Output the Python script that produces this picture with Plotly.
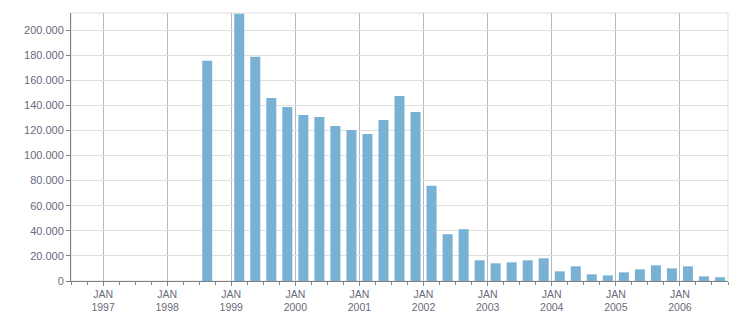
import plotly.graph_objects as go

# Quarterly data (Q3 1998 .. Q3 2006)
quarters = ["1998Q3", "1998Q4",
            "1999Q1", "1999Q2", "1999Q3", "1999Q4",
            "2000Q1", "2000Q2", "2000Q3", "2000Q4",
            "2001Q1", "2001Q2", "2001Q3", "2001Q4",
            "2002Q1", "2002Q2", "2002Q3", "2002Q4",
            "2003Q1", "2003Q2", "2003Q3", "2003Q4",
            "2004Q1", "2004Q2", "2004Q3", "2004Q4",
            "2005Q1", "2005Q2", "2005Q3", "2005Q4",
            "2006Q1", "2006Q2", "2006Q3"]
values = [175500, 0,
          213000, 178700, 145900, 138700,
          132300, 130700, 123600, 120400,
          117200, 128400, 147500, 134700,
          75900, 37300, 41300, 16500,
          14100, 14900, 16500, 18100,
          7700, 11700, 5300, 4500,
          6900, 9300, 12500, 10100,
          11700, 3700, 3000]
years = list(range(1997, 2007))
tick_labels = {str(y): "JAN<br>" + str(y) for y in years}
y_ticks = list(range(0, 200001, 20000))

# bar centers at the middle of each quarter (numeric years)
xpos = [int(q[:4]) + (int(q[-1]) - 1) / 4 + 0.125 for q in quarters]

font = dict(family="Tahoma, Liberation Sans, Arial, sans-serif", size=11, color="#6a6a7c")
xfont = dict(family="Tahoma, Liberation Sans, Arial, sans-serif", size=10.5, color="#6a6a7c")

fig = go.Figure()
fig.add_trace(go.Bar(x=xpos, y=values, width=0.156,
                     marker=dict(color="#78b1d4", line=dict(width=0)),
                     hoverinfo="skip"))

fig.update_layout(
    width=751, height=313,
    margin=dict(l=71, r=23, t=13, b=32),
    paper_bgcolor="white", plot_bgcolor="white",
    separators=",.",
    showlegend=False,
    font=font,
    shapes=[dict(type="rect", xref="paper", yref="paper", x0=0, x1=1, y0=0, y1=1,
                 line=dict(color="#dedede", width=1), layer="below")],
)
fig.update_xaxes(
    range=[1996.5, 2006.75],
    automargin=False,
    tickmode="linear", tick0=1997, dtick=1, tickformat="d",
    labelalias=tick_labels,
    ticklabelstandoff=-1,
    showgrid=True, gridcolor="#b8b8b8", gridwidth=1,
    ticks="outside", ticklen=4, tickcolor="#888888",
    showline=True, linecolor="#808080", linewidth=1,
    minor=dict(tickmode="linear", tick0=1996.5, dtick=0.25, ticks="outside",
               ticklen=3, tickcolor="#888888", showgrid=False),
    tickfont=xfont, zeroline=False,
)
fig.update_yaxes(
    range=[0, 213600],
    automargin=False,
    tickmode="array", tickvals=y_ticks, tickformat=",d",
    showgrid=True, gridcolor="#e0e0e0", gridwidth=1,
    ticks="outside", ticklen=4, tickcolor="#808080",
    showline=True, linecolor="#808080", linewidth=1,
    tickfont=font, zeroline=False,
)
fig.write_html("out.html")
